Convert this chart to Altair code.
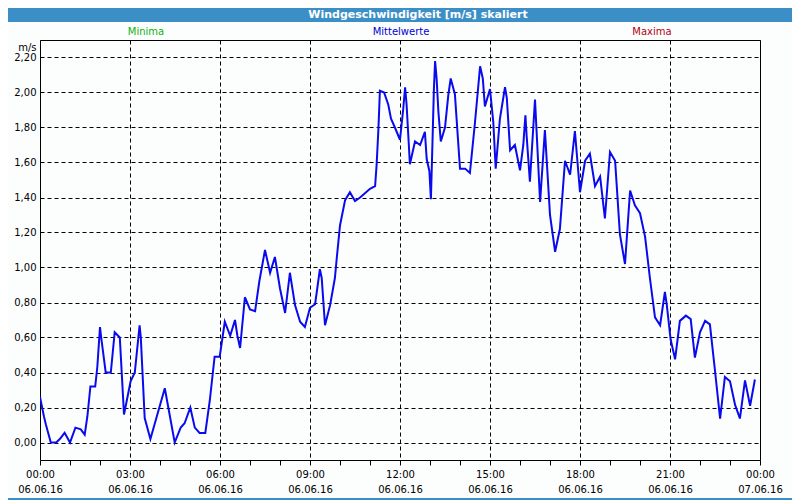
import altair as alt
import pandas as pd

# ---- data ----
hours = [
    0.00, 0.13, 0.20, 0.36, 0.54, 0.66, 0.82, 1.00, 1.18, 1.36, 1.49, 1.58, 1.68, 1.84, 1.91,
    2.00, 2.04, 2.19, 2.36, 2.49, 2.66, 2.80, 2.87, 3.02, 3.16, 3.32, 3.36, 3.49, 3.68, 4.16,
    4.49, 4.69, 4.82, 5.01, 5.16, 5.32, 5.51, 5.66, 5.82, 5.99, 6.16, 6.34, 6.50, 6.58, 6.67,
    6.83, 7.00, 7.17, 7.31, 7.50, 7.67, 7.83, 8.00, 8.17, 8.33, 8.50, 8.67, 8.83, 9.00, 9.17,
    9.33, 9.39, 9.50, 9.67, 9.83, 9.89, 10.00, 10.17, 10.33, 10.50, 10.67, 11.00, 11.17, 11.22,
    11.28, 11.33, 11.47, 11.61, 11.70, 11.83, 12.00, 12.11, 12.17, 12.22, 12.33, 12.50, 12.67,
    12.83, 12.89, 12.98, 13.03, 13.08, 13.13, 13.17, 13.22, 13.28, 13.36, 13.50, 13.61, 13.69,
    13.83, 14.00, 14.17, 14.33, 14.50, 14.67, 14.76, 14.83, 15.00, 15.11, 15.19, 15.33, 15.50,
    15.56, 15.67, 15.83, 16.00, 16.11, 16.18, 16.22, 16.33, 16.50, 16.67, 16.83, 17.00, 17.17,
    17.33, 17.50, 17.67, 17.83, 18.00, 18.17, 18.33, 18.50, 18.67, 18.83, 19.00, 19.17, 19.33,
    19.50, 19.67, 19.83, 20.00, 20.17, 20.33, 20.50, 20.67, 20.83, 20.89, 21.02, 21.17, 21.33,
    21.53, 21.69, 21.83, 22.00, 22.17, 22.33, 22.50, 22.67, 22.83, 23.00, 23.17, 23.33, 23.50,
    23.67, 23.83,
]
speed = [
    0.26, 0.15, 0.10, 0.00, 0.00, 0.02, 0.055, 0.00, 0.085, 0.075, 0.045, 0.15, 0.32, 0.32, 0.43,
    0.66, 0.60, 0.40, 0.40, 0.63, 0.60, 0.16, 0.22, 0.35, 0.40, 0.67, 0.60, 0.14, 0.02, 0.31,
    0.00, 0.085, 0.11, 0.20, 0.085, 0.055, 0.055, 0.24, 0.49, 0.49, 0.69, 0.61, 0.70, 0.61, 0.54,
    0.83, 0.76, 0.75, 0.92, 1.10, 0.97, 1.06, 0.88, 0.74, 0.97, 0.785, 0.69, 0.66, 0.77, 0.79,
    0.99, 0.94, 0.67, 0.785, 0.94, 1.05, 1.24, 1.385, 1.43, 1.38, 1.40, 1.45, 1.465, 1.585,
    1.79, 2.01, 2.00, 1.93, 1.85, 1.80, 1.73, 1.91, 2.03, 1.93, 1.59, 1.72, 1.70,
    1.775, 1.62, 1.55, 1.39, 1.70, 2.02, 2.18, 2.08, 1.89, 1.72, 1.80, 1.985, 2.08,
    1.99, 1.565, 1.565, 1.54, 1.83, 2.15, 2.08, 1.92, 2.02, 1.83, 1.565, 1.85, 2.03,
    1.97, 1.67, 1.70, 1.555, 1.70, 1.87, 1.755, 1.49, 1.96, 1.375, 1.785, 1.30, 1.09,
    1.22, 1.61, 1.53, 1.78, 1.43, 1.61, 1.65, 1.465, 1.52, 1.28, 1.66, 1.61, 1.19,
    1.02, 1.44, 1.355, 1.31, 1.175, 0.94, 0.715, 0.67, 0.86, 0.79, 0.59, 0.475, 0.695,
    0.725, 0.705, 0.485, 0.63, 0.695, 0.675, 0.41, 0.137, 0.375, 0.35, 0.215, 0.137, 0.355,
    0.21, 0.36,
]
tick_times = ["00:00", "03:00", "06:00", "09:00", "12:00", "15:00", "18:00", "21:00", "00:00"]
tick_dates = ["06.06.16", "06.06.16", "06.06.16", "06.06.16", "06.06.16",
              "06.06.16", "06.06.16", "06.06.16", "07.06.16"]
minor_hours = list(range(0, 25))
y_ticks = [0.0, 0.2, 0.4, 0.6, 0.8, 1.0, 1.2, 1.4, 1.6, 1.8, 2.0, 2.2]
legend_names = ["Minima", "Mittelwerte", "Maxima"]
legend_colors = ["#10b010", "#0000d0", "#b00010"]
title_text = "Windgeschwindigkeit [m/s] skaliert"
unit_text = "m/s"

# ---- styling ----
FONT = "DejaVu Sans"
BAR_BLUE = "#3c8fc6"
LINE_BLUE = "#0a0aee"
GRID_DASH = [4, 3]

df = pd.DataFrame({"h": hours, "v": speed})

T = "[" + ",".join("'%s'" % t for t in tick_times) + "]"
D = "[" + ",".join("'%s'" % d for d in tick_dates) + "]"
x_label_expr = ("datum.value % 3 === 0 ? [" + T + "[datum.value / 3], " + D +
                "[datum.value / 3]] : ''")

x_axis = alt.Axis(
    values=minor_hours,
    labelExpr=x_label_expr,
    labelOverlap=False,
    labelFlush=False,
    labelAngle=0,
    labelFont=FONT,
    labelFontSize=10,
    labelColor="black",
    labelPadding=4,
    labelLineHeight=15,
    tickSize=5,
    tickColor="black",
    tickWidth=1,
    domain=False,
    grid=True,
    gridColor="black",
    gridDash=GRID_DASH,
    gridWidth=1,
    gridOpacity={"condition": {"test": "datum.value % 3 !== 0", "value": 0}, "value": 1},
    title=None,
)

y_axis = alt.Axis(
    values=y_ticks,
    labelExpr="replace(format(datum.value, '.2f'), '.', ',')",
    labelFont=FONT,
    labelFontSize=10,
    labelColor="black",
    labelPadding=4,
    ticks=False,
    domain=False,
    grid=True,
    gridColor="black",
    gridDash=GRID_DASH,
    gridWidth=1,
    title=unit_text,
    titleAngle=0,
    titleX=-4,
    titleY=7,
    titleAlign="right",
    titleBaseline="middle",
    titleFont=FONT,
    titleFontSize=10,
    titleFontWeight="normal",
    titleColor="black",
)

line = alt.Chart(df).mark_line(color=LINE_BLUE, strokeWidth=2, clip=True).encode(
    x=alt.X("h:Q", scale=alt.Scale(domain=[0, 24], nice=False, zero=False), axis=x_axis),
    y=alt.Y("v:Q", scale=alt.Scale(domain=[-0.1, 2.3], nice=False, zero=False), axis=y_axis),
)

one = pd.DataFrame({"k": [0]})
base = alt.Chart(one)

bar = base.mark_rect(color=BAR_BLUE).encode(
    x=alt.value(-32), x2=alt.value(752), y=alt.value(-32), y2=alt.value(-18)
)
title = base.mark_text(
    text=title_text, color="white", font=FONT, fontSize=11, fontWeight="bold",
    align="center", baseline="middle",
).encode(x=alt.value(378), y=alt.value(-25))

bottom_edge = base.mark_rule(color=BAR_BLUE, strokeWidth=2).encode(
    x=alt.value(-32), x2=alt.value(752), y=alt.value(459)
)

legend_x = [106, 361, 612]
legend_layers = []
for name, col, lx in zip(legend_names, legend_colors, legend_x):
    legend_layers.append(
        base.mark_text(text=name, color=col, font=FONT, fontSize=10,
                       align="center", baseline="middle").encode(
            x=alt.value(lx), y=alt.value(-8)
        )
    )

chart = alt.layer(line, bar, title, bottom_edge, *legend_layers).properties(
    width=720,
    height=420,
    autosize=alt.AutoSizeParams(type="none"),
    padding={"left": 32, "top": 32, "right": 32, "bottom": 40},
    background="#fcfefe",
).configure_view(stroke="black", strokeWidth=1)

chart.save("out.html", embed_options={"renderer": "svg", "actions": False})
